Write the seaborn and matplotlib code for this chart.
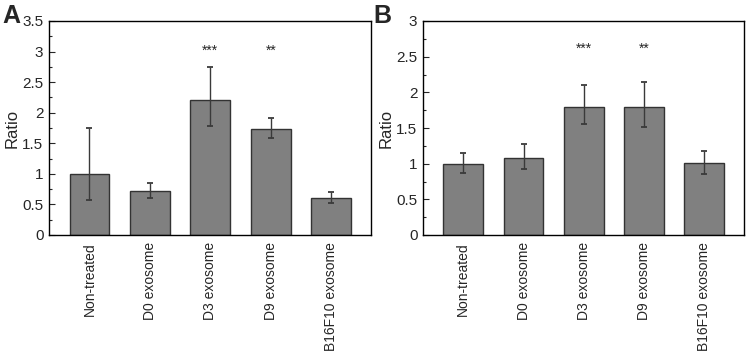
import numpy as np
import pandas as pd
import matplotlib
matplotlib.use("Agg")
import matplotlib.pyplot as plt
import seaborn as sns
from matplotlib.ticker import MultipleLocator

# ── Data ──────────────────────────────────────────────────────────────────────
categories = ["Non-treated", "D0 exosome", "D3 exosome", "D9 exosome", "B16F10 exosome"]

a_mean = [1.00, 0.72, 2.21, 1.74, 0.61]
a_low  = [0.57, 0.60, 1.78, 1.58, 0.53]
a_high = [1.75, 0.85, 2.74, 1.92, 0.70]
a_stars = ["", "", "***", "**", ""]

b_mean = [1.00, 1.08, 1.80, 1.80, 1.01]
b_low  = [0.87, 0.92, 1.55, 1.52, 0.86]
b_high = [1.15, 1.27, 2.10, 2.14, 1.18]
b_stars = ["", "", "***", "**", ""]

panels = [
    ("A", a_mean, a_low, a_high, a_stars, 3.5, 3.02),
    ("B", b_mean, b_low, b_high, b_stars, 3.0, 2.61),
]

# ── Figure ────────────────────────────────────────────────────────────────────
sns.set_theme(style="ticks")
plt.rcParams["font.family"] = ["Liberation Sans", "DejaVu Sans"]

fig = plt.figure(figsize=(7.47, 3.54), dpi=100)
axes = [fig.add_axes([49 / 747, 1 - 235 / 354, 322 / 747, 214 / 354]),
        fig.add_axes([423 / 747, 1 - 235 / 354, 321 / 747, 214 / 354])]

for ax, (tag, mean, low, high, stars, ymax, star_y) in zip(axes, panels):
    df = pd.DataFrame({"group": categories, "ratio": mean})
    sns.barplot(data=df, x="group", y="ratio", ax=ax, color="#808080",
                saturation=1, width=0.66, edgecolor="#333333", linewidth=1.0,
                errorbar=None)
    x = np.arange(len(categories))
    yerr = [np.array(mean) - np.array(low), np.array(high) - np.array(mean)]
    ax.errorbar(x, mean, yerr=yerr, fmt="none", ecolor="#3a3a3a",
                elinewidth=1.0, capsize=2.5, capthick=1.3)
    for xi, s in zip(x, stars):
        if s:
            ax.text(xi, star_y, s, ha="center", va="center", fontsize=10)

    ax.set_xlim(-0.67, 4.66)
    ax.set_ylim(0, ymax)
    ax.yaxis.set_major_locator(MultipleLocator(0.5))
    ax.yaxis.set_minor_locator(MultipleLocator(0.25))
    ax.set_yticklabels([f"{v:g}" for v in ax.get_yticks()])
    ax.tick_params(axis="y", which="major", direction="in", length=4,
                   width=0.8, labelsize=11, pad=4)
    ax.tick_params(axis="y", which="minor", direction="in", length=2, width=0.8)
    ax.tick_params(axis="x", length=0, labelsize=10, pad=5)
    ax.set_xticks(x)
    ax.set_xticklabels(categories, rotation=90, va="top")
    ax.set_xlabel("")
    ax.set_ylabel("Ratio", fontsize=12, labelpad=2)
    for sp in ax.spines.values():
        sp.set_visible(True)
        sp.set_linewidth(1.0)
        sp.set_color("black")

fig.text(2 / 747, 1 - 16 / 354, "A", fontsize=18, fontweight="bold", va="center")
fig.text(373 / 747, 1 - 16 / 354, "B", fontsize=18, fontweight="bold", va="center")

plt.savefig("out.png", dpi=100)
plt.close()
